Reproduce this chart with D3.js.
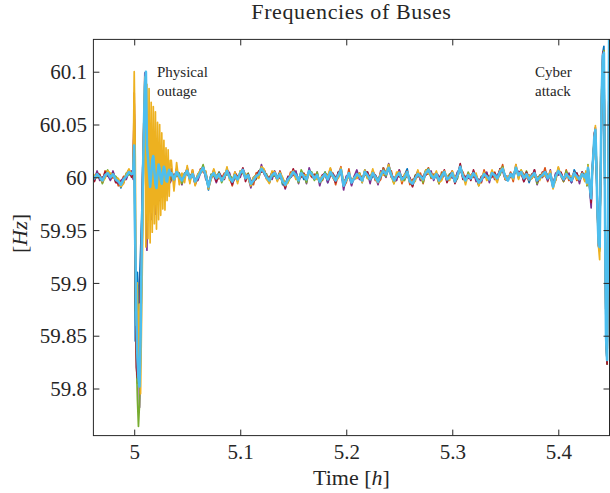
<!DOCTYPE html>
<html>
<head>
<meta charset="utf-8">
<script src="https://cdn.jsdelivr.net/npm/d3@7"></script>
<style>
    body { margin: 0; background: #fff; }
    #chart { width: 610px; height: 493px; }
    text { font-family: 'Liberation Serif', 'Times New Roman', serif; fill: #262626; }
</style>
</head>
<body>
<div id="chart"></div>
<script>
// 刻度
const tickX = [5, 5.1, 5.2, 5.3, 5.4];
const tickXLabels = ['5', '5.1', '5.2', '5.3', '5.4'];
const tickY = [59.8, 59.85, 59.9, 59.95, 60, 60.05, 60.1];
const tickYLabels = ['59.8', '59.85', '59.9', '59.95', '60', '60.05', '60.1'];

// 母线颜色 (MATLAB 默认配色)
const busColors = ['#0072BD', '#D95319', '#EDB120', '#7E2F8E', '#77AC30', '#A2142F', '#4DBEEE'];
const drawOrder = [0, 1, 3, 4, 5, 2, 6];

// 采样时间段 [起点, 步长] (h)
const segA = [4.960, 0.0025];
const segB = [4.999, 0.001];
const segC = [5.035, 0.0025];
const segD = [5.426, 0.001];

// 频率偏差, 单位 mHz (相对 60 Hz)
// 故障前的公共波动
const commonA = [2, -1, 3, 0, -3, 2, 4, 0, 3, -2, -4, -7, -2, 1, 5, 3];

// 物理故障 (每条母线)
const outage = [
    [2, 55, -155, -120, -90, -130, -100, -70, -40, 10, 30, 60, 20, -10, 40, -25, 30, -10, 22, -18, 16, -8, 18, -12, 10, -6, 12, -9, 7, -5, 8, -6, 5, -3, 4, -2],
    [3, 80, -40, -160, -195, -170, -140, -110, -60, 0, 45, 70, 35, -20, 30, -15, 25, -22, 18, -14, 20, -12, 14, -16, 10, -10, 12, -8, 8, -10, 6, -6, 5, -7, 3, -4],
    [6, 100, 20, -140, -100, -190, -120, -205, -130, -60, 50, 95, -66, 88, -58, 84, -62, 71, -52, 67, -44, 62, -49, 52, -40, 50, -36, 42, -30, 35, -31, 28, -22, 26, -18, 16],
    [-2, 60, -90, -150, -175, -140, -218, -160, -90, -30, 40, 99, 50, -69, 40, -30, 28, -40, 20, -25, 16, -35, 12, -18, 10, -22, 8, -14, 6, -12, 5, -9, 3, -8, 2, -5],
    [0, 40, -100, -170, -210, -236, -215, -160, -90, -30, 20, 45, 10, -25, 15, -20, 12, -18, 8, -15, 10, -12, 6, -10, 5, -9, 4, -8, 3, -6, 2, -5, 2, -4, 1, -3],
    [3, 70, -70, -180, -190, -160, -130, -95, -50, 5, 50, 80, 30, -15, 25, -20, 22, -14, 16, -12, 14, -9, 12, -8, 10, -7, 8, -6, 6, -5, 5, -4, 4, -3, 3, -2],
    [4, 30, -60, -130, -170, -190, -198, -150, -70, -10, 40, 85, 100, 30, 18, 4, -9, 2, 16, 20, 6, -6, -10, 3, 12, 8, -2, -6, 4, 10, 6, -3, -4, 3, 7, 2]
];

// 故障后的公共波动
const commonC = [
    4, -2, 5, 1, -3, 2, 6, -1, 3, -4, 0, 5, 9, 2, -9, 1, 4, -1, 3, -3,
    1, 6, 0, -4, 2, -2, 4, 7, -1, 2, -6, -3, 1, 3, 8, 5, 0, -3, 2, 4,
    -1, 3, -4, -7, -2, 1, 5, 2, -3, 4, 1, -2, 6, 3, -1, 2, -4, 0, 3, -2,
    5, 1, -3, 2, 7, -8, -2, 4, -5, -1, 3, 1, -3, 5, 2, -2, 4, 0, -4, 2,
    6, 3, 9, 2, -3, 1, 4, -2, 0, 5, -4, -6, -1, 3, 1, -2, 4, 7, 2, -1,
    3, -3, 1, 5, -2, 0, 4, -4, 2, 10, 1, -3, 2, -1, 4, 0, -5, -2, 3, 1,
    -2, 4, 2, -1, 5, 8, 1, -3, 3, 0, 9, 2, 5, -1, 3, -2, 1, 4, -3, 0,
    2, 5, -1, 3, -9, 1, 6, 2, -2, 3, 0, -3, 4, 1, -2, 3, 0
];

// 网络攻击
const commonD = [3, -5, 9, -2, -12, -20, 5, 20, 38, 45, 10, -35, -62, -66, 10, 80, 115, 118, -20, -150, -173, -60, 140, 150];

// 各母线相对公共波动的偏差 (前6条)
const jitterA = [
    [1, -2, 2, -1, 3, 0, -3, 1, 2, -2, 1, -3, 2, 0, -1, 2],
    [-3, 2, -1, 3, -2, 4, 1, -2, -3, 2, -4, 1, 3, -1, 2, -2],
    [2, 3, -3, 1, -1, -3, 2, 4, -2, 1, 3, -2, -4, 2, 3, 0],
    [-2, -1, 3, -3, 2, 1, -2, -3, 3, -1, -2, 4, 1, -3, 0, 3],
    [0, 2, -2, 2, -3, -1, 3, 0, -1, 3, 2, -1, -2, 3, -3, 1],
    [3, -3, 1, 2, -1, 3, -1, 2, 1, -3, -1, 2, -3, 1, 2, -3]
];

const jitterC = [
    [2, -1, 3, -2, 1, 0, -3, 2, 1, -2, 3, -1, 0, 2, -3, 1, -1, 3, -2, 0,
     1, -3, 2, 1, -1, 3, -2, 0, 2, -1, -2, 3, 1, -3, 0, 2, -1, 1, 3, -2,
     0, 2, -3, 1, 2, -1, -2, 3, 0, 1, -3, 2, -1, 0, 3, -2, 1, -1, 2, -3,
     2, 0, -1, 3, -2, 1, 2, -3, 0, 1, -1, 3, -2, 2, 0, -1, -3, 2, 1, -2,
     3, -1, 0, 2, -2, 1, -3, 0, 2, 3, -1, -2, 1, 0, -3, 2, 3, -1, 0, 1,
     -2, 3, 1, -1, 0, 2, -3, 1, 3, -2, 0, 1, -1, 2, -3, 0, 2, 1, -2, 3,
     -1, 0, 2, -2, 3, 1, -3, 0, 1, 2, -1, 3, -2, 0, 1, -3, 2, -1, 3, 0,
     -2, 1, 3, -1, 0, 2, -3, 1, -1, 2, 0, -2, 3, 1, -1, 2, 0],
    [-3, 2, -4, 1, 3, -2, 2, -3, 4, -1, -2, 3, -4, 1, 2, -3, 3, -1, -4, 2,
     3, -2, 1, -4, 2, 3, -1, -3, 4, -2, 1, -4, 3, 2, -3, 1, -2, 4, -1, -3,
     2, -4, 3, 1, -2, 4, -3, -1, 2, -4, 3, 1, -2, -3, 4, -1, 2, -3, 1, 4,
     -2, 3, -4, 1, 3, -1, -3, 4, -2, 2, -4, 1, 3, -2, -1, 4, -3, 2, -1, -4,
     3, 1, -3, 4, -2, -1, 3, -4, 2, 1, -3, 4, -1, -2, 3, -4, 1, 2, -3, 4,
     -1, -3, 4, -2, 1, 3, -4, 2, -1, -3, 4, 1, -2, 3, -4, 2, 1, -3, 4, -1,
     2, -4, 3, -1, -2, 4, -3, 1, 2, -4, 3, -2, 1, 4, -3, -1, 2, -4, 3, 1,
     -2, 4, -3, 1, 2, -4, 3, -1, -2, 4, -3, 2, 1, -4, 3, -2, 1],
    [12, -11, 9, -8, 7, -7, 5, -5, 4, -4, 3, 2, -3, 4, -2, -3, 4, 1, -3, 2,
     -2, 4, -3, 1, 3, -4, 2, -1, 4, -3, -2, 3, 1, -4, 2, 3, -2, -3, 4, 1,
     -3, 2, 4, -1, -3, 2, 1, -4, 3, -2, 1, 4, -3, -1, 2, -4, 3, 1, -2, 3,
     4, -2, 1, -3, 2, 4, -1, -3, 2, 1, -4, 3, -2, 2, -3, 1, 4, -2, -1, 3,
     -4, 2, 3, -1, -3, 4, 1, -2, 3, -4, 2, 1, -3, 4, -2, -1, 3, -4, 2, 1,
     3, -2, -4, 1, 3, -3, 2, 4, -1, -3, 2, -4, 1, 3, -2, 4, -3, 1, 2, -4,
     1, 3, -2, -4, 2, 1, -3, 4, -1, -2, 3, -4, 2, 1, -3, 4, -2, -1, 3, -3,
     2, -4, 1, 3, -2, -3, 4, -1, 2, -3, 1, 4, -2, -3, 2, 1, -4],
    [-6, 5, -4, 3, -4, 2, -3, 1, -2, 3, -3, -1, 2, -4, 3, 1, -2, -4, 2, 3,
     -3, 1, 4, -2, -3, 2, -4, 1, 3, -2, -4, 2, 1, -3, 4, -2, -1, 3, -4, 2,
     1, -3, 2, -4, 3, -1, -2, 4, -3, 1, 2, -4, 3, -2, -1, 3, -4, 2, 1, -3,
     -4, 2, 3, -2, 1, -4, 3, -1, -3, 2, 4, -3, 1, -2, 3, -4, 2, 1, -3, 4,
     -2, -3, 4, -1, 2, -4, 3, 1, -2, -3, 4, -2, 1, 3, -4, 2, -1, -3, 4, -2,
     1, 4, -3, -2, 3, -1, -4, 2, 3, -2, -1, 4, -3, 2, 1, -4, 3, -2, -1, 4,
     -3, 2, -4, 3, 1, -2, -3, 4, -1, 2, -4, 3, 1, -3, -2, 4, -1, 3, -4, 2,
     1, -3, -2, 4, -1, 3, -4, 2, 1, -3, 4, -2, -1, 3, -4, 2, -3],
    [-5, 4, -4, 3, -3, 2, -2, 2, 0, -2, 2, -1, 3, -2, 0, 2, -3, 1, 2, -2,
     0, -3, 2, 3, -1, -2, 2, -3, 1, 2, -2, 0, -3, 2, 1, -1, 3, -2, 0, -3,
     2, 1, -2, 3, -3, 0, 2, -1, -2, 3, 1, -3, 0, 2, -2, 3, -1, -2, 2, 0,
     -3, 1, 2, -2, 0, 3, -1, -3, 2, 0, -2, 3, -1, 1, -3, 2, 0, -2, 3, -1,
     1, -2, 3, 0, -3, 2, -1, 2, -3, 0, 1, -2, 3, -1, 0, -3, 2, 1, -2, 3,
     0, -3, 2, 1, -2, 3, 0, -1, -3, 2, 1, -2, 3, 0, -2, 1, -3, 2, 0, -1,
     3, -2, 0, 1, -3, 2, -1, 3, -2, 0, 1, -3, 2, -1, 3, 0, -2, 1, -3, 2,
     0, -2, 3, -1, 1, -3, 2, 0, -2, 3, -1, 1, -3, 2, 0, -2, 3],
    [4, -3, 3, -3, 2, -2, 3, -1, 2, -3, 1, 2, -2, 3, -1, -2, 2, -3, 1, 3,
     -2, 2, -1, -3, 3, 1, -2, 2, -3, 1, 3, -1, -2, 3, -3, 2, 1, -2, 3, -1,
     -2, 3, 1, -3, 2, -1, 3, -2, 1, -3, 2, 3, -1, -2, 3, -3, 1, 2, -2, 1,
     3, -1, -2, 3, -3, 2, 1, -2, 3, -1, -3, 2, 1, -2, 3, -1, 2, -3, 1, 2,
     -3, 2, 1, -2, 3, -1, -3, 2, 1, -2, 3, -3, 2, 1, -1, 3, -2, -3, 2, 1,
     -1, 3, -2, 2, -3, 1, 2, -2, -1, 3, -3, 2, 1, -2, 3, -1, -2, 3, -3, 2,
     1, -3, 2, -1, 3, -2, 1, 2, -3, 1, -2, 3, -1, -3, 2, 1, -2, 3, -1, -2,
     3, -2, 1, -3, 2, 1, -2, 3, -1, -3, 2, 1, -2, 3, -1, 2, -2]
];

const jitterD = [
    [2, -3, 1, 3, -2, -4, 2, 3, -5, -4, 3, 5, -4, 2, -6, -5, 3, 6, 8, -5, -2, 4, -6, -5],
    [-3, 2, -4, 1, 3, 2, -3, -2, 4, -3, -5, 2, 3, -2, 5, -4, -3, 2, 6, 4, -3, -5, 4, 3],
    [3, -2, 2, -3, -2, 5, 3, -4, -3, 4, 6, -3, -4, -12, 2, 3, -4, -3, 6, -3, 5, -2, 3, 2],
    [-2, 3, -3, 2, -4, -9, 3, 2, -2, -5, 3, 4, -3, 5, -3, -2, 4, -3, -5, 6, 3, -2, 2, -4],
    [1, -3, 3, -2, 4, 1, -2, 3, 2, -3, -4, 5, 2, -4, 2, 5, -3, 2, -4, 5, -4, 3, -3, 2],
    [-1, 2, -2, 3, -1, -4, 2, -3, 3, 2, -4, -3, 4, 3, -3, 2, 3, -4, -3, 4, -4, 3, -2, -3]
];

// 尺寸
const width = 610;
const height = 493;
const plot = { left: 93.4, right: 609.5, top: 39.4, bottom: 435.6 };

const svg = d3.select('#chart')
    .append('svg')
    .attr('width', width)
    .attr('height', height);

const x = d3.scaleLinear()
    .domain([4.9615, 5.4483])
    .range([plot.left, plot.right]);

const y = d3.scaleLinear()
    .domain([59.7554, 60.1306])
    .range([plot.bottom, plot.top]);

// 拼接一条母线的时间序列
function segTimes(seg, n) {
    return d3.range(n).map(i => seg[0] + i * seg[1]);
}

function busSeries(k) {
    const pts = [];
    const add = (seg, vals) => {
        segTimes(seg, vals.length).forEach((t, i) => pts.push([t, 60 + vals[i] / 1000]));
    };
    if (k === 6) {
        add(segA, commonA);
        add(segB, outage[6]);
        add(segC, commonC);
        add(segD, commonD);
    } else {
        add(segA, commonA.map((v, i) => v + (jitterA[k][i] || 0)));
        add(segB, outage[k]);
        add(segC, commonC.map((v, i) => v + (jitterC[k][i] || 0)));
        add(segD, commonD.map((v, i) => v + (jitterD[k][i] || 0)));
    }
    return pts;
}

svg.append('clipPath')
    .attr('id', 'clip')
    .append('rect')
    .attr('x', plot.left)
    .attr('y', plot.top)
    .attr('width', plot.right - plot.left)
    .attr('height', plot.bottom - plot.top);

const line = d3.line()
    .x(d => x(d[0]))
    .y(d => y(d[1]));

const linesGroup = svg.append('g').attr('clip-path', 'url(#clip)');

drawOrder.forEach(k => {
    linesGroup.append('path')
        .datum(busSeries(k))
        .attr('d', line)
        .attr('fill', 'none')
        .attr('stroke', busColors[k])
        .attr('stroke-width', k === 6 ? 2.6 : 1.7)
        .attr('stroke-linejoin', 'round');
});

// 坐标轴
const axisColor = '#262626';

const xAxis = svg.append('g')
    .attr('transform', `translate(0,${plot.bottom})`)
    .call(d3.axisBottom(x).tickValues(tickX).tickSize(-6).tickFormat((d, i) => tickXLabels[i]));
xAxis.selectAll('text').attr('y', 23).attr('dy', 0).style('font-size', '21px');

svg.append('g')
    .attr('transform', `translate(0,${plot.top})`)
    .call(d3.axisTop(x).tickValues(tickX).tickSize(-6).tickFormat(''));

const yAxis = svg.append('g')
    .attr('transform', `translate(${plot.left},0)`)
    .call(d3.axisLeft(y).tickValues(tickY).tickSize(-6).tickFormat((d, i) => tickYLabels[i]));
yAxis.selectAll('text').attr('x', -6.5).attr('dy', '0.34em').style('font-size', '21px');

svg.append('g')
    .attr('transform', `translate(${plot.right},0)`)
    .call(d3.axisRight(y).tickValues(tickY).tickSize(-6).tickFormat(''));

svg.selectAll('.domain').remove();
svg.selectAll('.tick line').attr('stroke', axisColor);

svg.append('rect')
    .attr('x', plot.left)
    .attr('y', plot.top)
    .attr('width', plot.right - plot.left)
    .attr('height', plot.bottom - plot.top)
    .attr('fill', 'none')
    .attr('stroke', axisColor)
    .attr('stroke-width', 1);

// 标题和轴标签
svg.append('text')
    .attr('x', (plot.left + plot.right) / 2)
    .attr('y', 19)
    .attr('text-anchor', 'middle')
    .style('font-size', '22px')
    .style('letter-spacing', '0.6px')
    .text('Frequencies of Buses');

const xLabel = svg.append('text')
    .attr('x', (plot.left + plot.right) / 2)
    .attr('y', 485)
    .attr('text-anchor', 'middle')
    .style('font-size', '22px');
xLabel.append('tspan').text('Time [');
xLabel.append('tspan').style('font-style', 'italic').text('h');
xLabel.append('tspan').text(']');

const yLabel = svg.append('text')
    .attr('transform', `translate(27,${(plot.top + plot.bottom) / 2 - 4}) rotate(-90)`)
    .attr('text-anchor', 'middle')
    .style('font-size', '22px');
yLabel.append('tspan').text('[');
yLabel.append('tspan').style('font-style', 'italic').text('Hz');
yLabel.append('tspan').text(']');

// 注释
const notes = [
    { x: 157, lines: ['Physical', 'outage'] },
    { x: 535, lines: ['Cyber', 'attack'] }
];
notes.forEach(n => {
    n.lines.forEach((s, i) => {
        svg.append('text')
            .attr('x', n.x)
            .attr('y', 77 + i * 19)
            .style('font-size', '15px')
            .text(s);
    });
});
</script>
</body>
</html>
